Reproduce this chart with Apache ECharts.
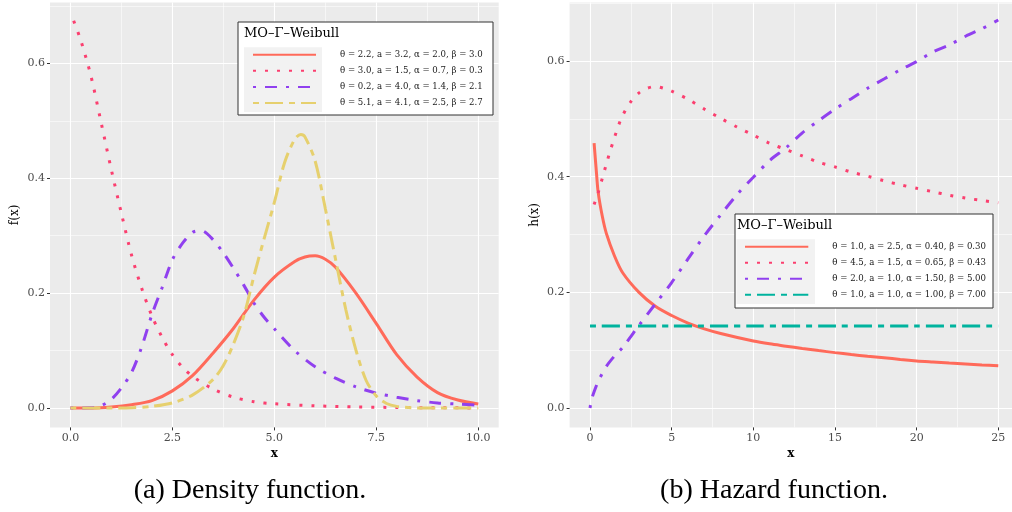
<!DOCTYPE html>
<html>
<head>
<meta charset="utf-8">
<script src="https://cdn.jsdelivr.net/npm/echarts@6/dist/echarts.min.js"></script>
<style>html,body{margin:0;padding:0;background:#fff;}</style>
</head>
<body>
<div id="main" style="width:1012px;height:512px;"></div>
<script>
// 左图：密度函数 f(x)
var leftXTicks = [0, 2.5, 5, 7.5, 10];
var leftXMinor = [1.25, 3.75, 6.25, 8.75];
var yTicks = [0, 0.2, 0.4, 0.6];
var yMinor = [0.1, 0.3, 0.5, 0.7];
var rightXTicks = [0, 5, 10, 15, 20, 25];
var rightXMinor = [2.5, 7.5, 12.5, 17.5, 22.5];

var leftNames = [
  'θ = 2.2, a = 3.2, α = 2.0, β = 3.0',
  'θ = 3.0, a = 1.5, α = 0.7, β = 0.3',
  'θ = 0.2, a = 4.0, α = 1.4, β = 2.1',
  'θ = 5.1, a = 4.1, α = 2.5, β = 2.7'
];
var rightNames = [
  'θ = 1.0, a = 2.5, α = 0.40, β = 0.30',
  'θ = 4.5, a = 1.5, α = 0.65, β = 0.43',
  'θ = 2.0, a = 1.0, α = 1.50, β = 5.00',
  'θ = 1.0, a = 1.0, α = 1.00, β = 7.00'
];

var fRedX = [0, 0.5, 1, 1.5, 2, 2.5, 3, 3.5, 4, 4.5, 5, 5.5, 5.75, 6, 6.25, 6.5, 7, 7.5, 8, 8.5, 9, 9.5, 10];
var fRedY = [0, 0.0001, 0.002, 0.006, 0.013, 0.030, 0.057, 0.096, 0.139, 0.188, 0.228, 0.255, 0.263, 0.265, 0.259, 0.245, 0.200, 0.147, 0.093, 0.054, 0.027, 0.014, 0.007];

var fPinkX = [0.08, 0.25, 0.5, 0.75, 1, 1.25, 1.5, 1.75, 2, 2.25, 2.5, 2.75, 3, 3.5, 4, 4.5, 5, 6, 7, 8, 9, 10];
var fPinkY = [0.674, 0.641, 0.579, 0.498, 0.416, 0.339, 0.266, 0.208, 0.160, 0.123, 0.093, 0.071, 0.055, 0.033, 0.019, 0.011, 0.0075, 0.004, 0.002, 0.001, 0.0006, 0.0003];

var fPurpleX = [0, 0.5, 0.75, 1, 1.25, 1.5, 1.75, 2, 2.25, 2.5, 2.75, 3, 3.2, 3.5, 3.75, 4, 4.25, 4.5, 4.75, 5, 5.5, 6, 6.5, 7, 7.5, 8, 8.5, 9, 9.5, 10];
var fPurpleY = [0, 0.0005, 0.004, 0.015, 0.035, 0.062, 0.107, 0.163, 0.210, 0.258, 0.287, 0.306, 0.309, 0.293, 0.270, 0.243, 0.214, 0.183, 0.158, 0.138, 0.100, 0.072, 0.052, 0.037, 0.026, 0.019, 0.013, 0.009, 0.007, 0.005];

var fYellowX = [0, 1, 1.5, 2, 2.5, 3, 3.5, 3.75, 4, 4.25, 4.5, 4.75, 5, 5.25, 5.5, 5.65, 5.75, 6, 6.25, 6.5, 6.75, 7, 7.25, 7.5, 7.75, 8, 8.5, 9, 9.5, 10];
var fYellowY = [0, 0, 0.0005, 0.003, 0.009, 0.023, 0.050, 0.074, 0.112, 0.160, 0.230, 0.295, 0.358, 0.427, 0.468, 0.476, 0.472, 0.430, 0.347, 0.259, 0.172, 0.101, 0.048, 0.021, 0.008, 0.003, 0.0003, 0, 0, 0];

// 右图：风险函数 h(x)
var hRedX = [0.25, 0.4, 0.5, 0.75, 1, 1.5, 2, 3, 4, 5, 6, 7, 8, 10, 11, 12, 13, 14, 15, 16, 17, 18, 19, 20, 21, 22, 23, 24, 25];
var hRedY = [0.458, 0.405, 0.373, 0.332, 0.302, 0.263, 0.234, 0.200, 0.176, 0.160, 0.147, 0.137, 0.129, 0.116, 0.111, 0.107, 0.103, 0.0993, 0.0958, 0.0925, 0.0896, 0.0870, 0.0840, 0.0815, 0.0796, 0.0778, 0.0761, 0.0745, 0.0731];

var hPinkX = [0.25, 0.5, 0.75, 1, 1.25, 1.5, 1.75, 2, 2.5, 3, 3.5, 4, 4.5, 5, 6, 7, 8, 9, 10, 11, 12, 13, 14, 15, 16, 17, 18, 19, 20, 21, 22, 23, 24, 25];
var hPinkY = [0.352, 0.372, 0.397, 0.422, 0.446, 0.468, 0.489, 0.506, 0.530, 0.545, 0.553, 0.556, 0.553, 0.548, 0.534, 0.517, 0.501, 0.486, 0.472, 0.458, 0.447, 0.436, 0.425, 0.417, 0.408, 0.401, 0.393, 0.386, 0.380, 0.374, 0.368, 0.363, 0.359, 0.355];

var hPurpleX = [0, 0.1, 0.25, 0.5, 1, 1.5, 2, 3, 4, 5, 6, 7, 8, 9, 10, 11, 12, 13, 14, 15, 16, 17, 18, 19, 20, 21, 22, 23, 24, 25];
var hPurpleY = [0, 0.015, 0.028, 0.046, 0.072, 0.090, 0.105, 0.143, 0.180, 0.217, 0.258, 0.298, 0.334, 0.369, 0.399, 0.428, 0.450, 0.476, 0.497, 0.517, 0.535, 0.553, 0.569, 0.585, 0.599, 0.616, 0.628, 0.643, 0.656, 0.671];

var hTealX = [0, 5, 10, 15, 20, 25];
var hTealY = [0.142, 0.142, 0.142, 0.142, 0.142, 0.142];

var colors = ['#ff6a5a', '#fb3f6f', '#9040ef', '#e6d06e', '#00b39e'];
var serif = '"DejaVu Serif", serif';

function zip(xs, ys) {
  return xs.map(function (x, i) { return [x, ys[i]]; });
}

function majorAxis(grid, min, max, ticks, fmt, name, isY) {
  return {
    type: 'value', gridIndex: grid, min: min, max: max,
    name: name, nameLocation: 'middle', nameGap: isY ? 29 : 17, nameRotate: isY ? 90 : 0,
    nameTextStyle: { fontFamily: serif, fontSize: 12, color: '#000', fontWeight: isY ? 'normal' : 'bold' },
    axisLine: { show: false, onZero: false },
    axisTick: { show: true, length: 3, customValues: ticks, lineStyle: { color: '#333', width: 1 } },
    axisLabel: { customValues: ticks, formatter: fmt, margin: 5, color: '#4d4d4d', fontFamily: serif, fontSize: 11 },
    splitLine: { show: true, lineStyle: { color: '#fff', width: 1.1 } }
  };
}
function minorAxis(grid, min, max, ticks) {
  return {
    type: 'value', gridIndex: grid, min: min, max: max,
    axisLine: { show: false, onZero: false },
    axisTick: { show: false, customValues: ticks },
    axisLabel: { show: false, customValues: ticks },
    splitLine: { show: true, lineStyle: { color: '#fff', width: 0.55 } }
  };
}

var dashes = ['solid', [3, 9], [3, 9, 12, 9], [6, 6, 18, 6]];

function mkSeries(name, xi, data, colIdx, dashIdx) {
  return {
    type: 'line', name: name, xAxisIndex: xi, yAxisIndex: xi,
    data: data, symbol: 'none', smooth: 0.3, z: 3,
    itemStyle: { color: colors[colIdx] },
    lineStyle: { color: colors[colIdx], width: 3, type: dashes[dashIdx], cap: 'butt' }
  };
}

var fmt1 = function (v) { return v.toFixed(1); };
var fmt0 = function (v) { return String(v); };

var myChart = echarts.init(document.getElementById('main'));

var legendText = { fontFamily: serif, fontSize: 8.6, color: '#1a1a1a', lineHeight: 10, padding: [0, 0, 0, 19] };

var option = {
  animation: false,
  grid: [
    { left: 50, top: 2.4, width: 448.7, height: 425, show: true, backgroundColor: '#ebebeb', borderWidth: 0 },
    { left: 569.6, top: 2.4, width: 442.4, height: 425, show: true, backgroundColor: '#ebebeb', borderWidth: 0 }
  ],
  xAxis: [
    majorAxis(0, -0.5, 10.5, leftXTicks, fmt1, 'x', false),
    minorAxis(0, -0.5, 10.5, leftXMinor),
    majorAxis(1, -1.25, 25.84, rightXTicks, fmt0, 'x', false),
    minorAxis(1, -1.25, 25.84, rightXMinor)
  ],
  yAxis: [
    majorAxis(0, -0.0336, 0.706, yTicks, fmt1, 'f(x)', true),
    minorAxis(0, -0.0336, 0.706, yMinor),
    majorAxis(1, -0.0335, 0.7015, yTicks, fmt1, 'h(x)', true),
    minorAxis(1, -0.0335, 0.7015, yMinor)
  ],
  legend: [
    { data: leftNames, orient: 'vertical', left: 252, top: 49.7, itemWidth: 63, itemHeight: 10, itemGap: 6.1,
      padding: 0, selectedMode: false, z: 20, textStyle: legendText, itemStyle: { opacity: 0 } },
    { data: rightNames, orient: 'vertical', left: 744, top: 241.7, itemWidth: 63.3, itemHeight: 10, itemGap: 6,
      padding: 0, selectedMode: false, z: 20, textStyle: legendText, itemStyle: { opacity: 0 } }
  ],
  graphic: [
    { type: 'rect', z: 10, shape: { x: 238, y: 22, width: 255, height: 93 }, style: { fill: '#fff', stroke: '#333', lineWidth: 1 } },
    { type: 'rect', z: 11, shape: { x: 244, y: 47.3, width: 78, height: 64.7 }, style: { fill: '#f2f2f2' } },
    { type: 'text', z: 11, x: 244, y: 33.5, style: { text: 'MO–Γ–Weibull', font: '13px "DejaVu Serif"', fill: '#000', verticalAlign: 'middle' } },
    { type: 'rect', z: 10, shape: { x: 735, y: 214, width: 258, height: 94 }, style: { fill: '#fff', stroke: '#333', lineWidth: 1 } },
    { type: 'rect', z: 11, shape: { x: 736.5, y: 239.3, width: 78.5, height: 64.7 }, style: { fill: '#f2f2f2' } },
    { type: 'text', z: 11, x: 737, y: 226, style: { text: 'MO–Γ–Weibull', font: '13px "DejaVu Serif"', fill: '#000', verticalAlign: 'middle' } },
    { type: 'text', x: 250, y: 491, style: { text: '(a) Density function.', font: '28px "Liberation Serif"', fill: '#000', align: 'center', verticalAlign: 'middle' } },
    { type: 'text', x: 774, y: 491, style: { text: '(b) Hazard function.', font: '28px "Liberation Serif"', fill: '#000', align: 'center', verticalAlign: 'middle' } }
  ],
  series: [
    mkSeries(leftNames[0], 0, zip(fRedX, fRedY), 0, 0),
    mkSeries(leftNames[1], 0, zip(fPinkX, fPinkY), 1, 1),
    mkSeries(leftNames[2], 0, zip(fPurpleX, fPurpleY), 2, 2),
    mkSeries(leftNames[3], 0, zip(fYellowX, fYellowY), 3, 3),
    mkSeries(rightNames[0], 2, zip(hRedX, hRedY), 0, 0),
    mkSeries(rightNames[1], 2, zip(hPinkX, hPinkY), 1, 1),
    mkSeries(rightNames[2], 2, zip(hPurpleX, hPurpleY), 2, 2),
    mkSeries(rightNames[3], 2, zip(hTealX, hTealY), 4, 3)
  ]
};

myChart.setOption(option);
</script>
</body>
</html>
